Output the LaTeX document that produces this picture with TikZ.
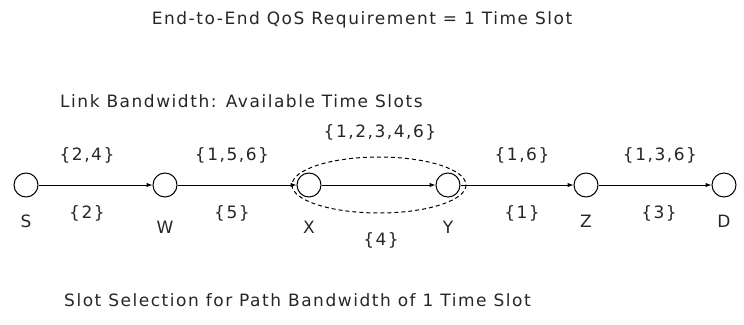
\documentclass[tikz,border=0pt]{standalone}
\usepackage{fontspec}
\setmainfont{DejaVu Sans}[LetterSpace=9]
\usetikzlibrary{arrows.meta}
\begin{document}
\begin{tikzpicture}[x=1pt,y=-1pt,
  vtx/.style={circle,draw,line width=1pt,minimum size=24pt,inner sep=0pt},
  lbl/.style={font=\fontsize{17}{19}\selectfont,text=black!85,inner sep=0pt},
  edge/.style={line width=1pt,-{Latex[length=6pt,width=4.5pt]}}]
\useasboundingbox (0,0) rectangle (744,324);
\node[lbl] (title) at (362,20) {End-to-End QoS Requirement = 1 Time Slot};
\node[lbl,anchor=west] (lb) at (60,101) {Link Bandwidth: Available Time Slots};
\node[lbl,anchor=west] (ss) at (64,300) {Slot Selection for Path Bandwidth of 1 Time Slot};
\node[vtx] (S) at (26,185) {};
\node[vtx] (W) at (165,185) {};
\node[vtx] (X) at (309,185) {};
\node[vtx] (Y) at (448,185) {};
\node[vtx] (Z) at (586,185) {};
\node[vtx] (D) at (724,185) {};
\node[lbl] (lS) at (26,221) {S};
\node[lbl] (lW) at (165,227) {W};
\node[lbl] (lX) at (309,227) {X};
\node[lbl] (lY) at (448,227) {Y};
\node[lbl] (lZ) at (586,221) {Z};
\node[lbl] (lD) at (724,221) {D};
\draw[edge] (S) -- (W);
\draw[edge] (W) -- (X);
\draw[edge] (X) -- (Y);
\draw[edge] (Y) -- (Z);
\draw[edge] (Z) -- (D);
\node[lbl] (a1) at (87,155) {\{2,4\}};
\node[lbl] (a2) at (232,155) {\{1,5,6\}};
\node[lbl] (a3) at (380,132) {\{1,2,3,4,6\}};
\node[lbl] (a4) at (522,155) {\{1,6\}};
\node[lbl] (a5) at (660,155) {\{1,3,6\}};
\node[lbl] (b1) at (87,213) {\{2\}};
\node[lbl] (b2) at (232,213) {\{5\}};
\node[lbl] (b3) at (381,240) {\{4\}};
\node[lbl] (b4) at (522,213) {\{1\}};
\node[lbl] (b5) at (659,213) {\{3\}};
\draw[dashed,line width=1pt,dash pattern=on 4pt off 3pt] (379,185) ellipse [x radius=87,y radius=28];
\end{tikzpicture}
\end{document}
